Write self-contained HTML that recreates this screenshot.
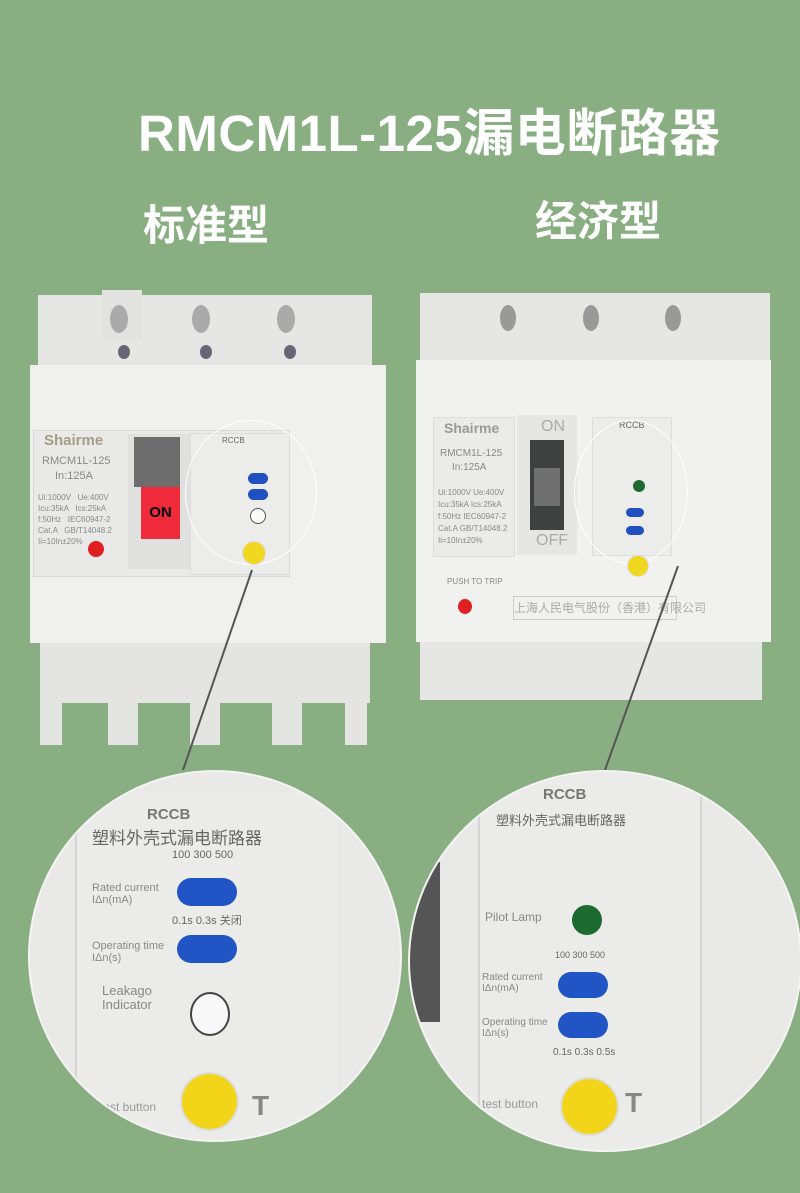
<!DOCTYPE html>
<html><head><meta charset="utf-8"><style>
body{margin:0;width:800px;height:1193px;background:#88ae82;position:relative;overflow:hidden;font-family:"Liberation Sans","Noto Sans CJK SC",sans-serif}
.a{position:absolute}
.t{color:#fff;font-weight:bold;white-space:nowrap}
.w{background:#efefee}
.g{color:#888;font-size:8px;white-space:nowrap}
.c{border-radius:50%}
</style></head><body>
<div class="a t" style="left:138px;top:92px;font-size:51px;letter-spacing:0.5px">RMCM1L-125漏电断路器</div>
<div class="a t" style="left:143px;top:192px;font-size:42px;">标准型</div>
<div class="a t" style="left:535px;top:188px;font-size:42px;">经济型</div>

<!-- left breaker -->
<div class="a w" style="left:38px;top:295px;width:334px;height:75px;background:#e6e6e4"></div>
<div class="a" style="left:102px;top:290px;width:40px;height:50px;background:#e2e2e0"></div>
<div class="a c" style="left:110px;top:305px;width:18px;height:28px;background:#aaa"></div>
<div class="a c" style="left:192px;top:305px;width:18px;height:28px;background:#aaa"></div>
<div class="a c" style="left:277px;top:305px;width:18px;height:28px;background:#aaa"></div>
<div class="a c" style="left:118px;top:345px;width:12px;height:14px;background:#667"></div>
<div class="a c" style="left:200px;top:345px;width:12px;height:14px;background:#667"></div>
<div class="a c" style="left:284px;top:345px;width:12px;height:14px;background:#667"></div>
<div class="a w" style="left:30px;top:365px;width:356px;height:278px;background:#f0f0ef"></div>
<div class="a" style="left:33px;top:430px;width:255px;height:145px;background:#e9e9e7;border:1px solid #d8d8d6"></div>
<div class="a" style="left:44px;top:432px;font-size:15px;font-weight:bold;color:#a89c88">Shairme</div>
<div class="a g" style="left:42px;top:455px;font-size:11px;">RMCM1L-125</div>
<div class="a g" style="left:55px;top:470px;font-size:11px;">In:125A</div>
<div class="a g" style="left:38px;top:492px;line-height:11px">Ui:1000V &nbsp; Ue:400V<br>Icu:35kA &nbsp; Ics:25kA<br>f:50Hz &nbsp; IEC60947-2<br>Cat.A &nbsp; GB/T14048.2<br>Ii=10In±20%</div>
<div class="a c" style="left:88px;top:541px;width:16px;height:16px;background:#e02020"></div>
<div class="a" style="left:128px;top:434px;width:62px;height:135px;background:#e0e0de"></div>
<div class="a" style="left:134px;top:437px;width:46px;height:50px;background:#6d6d6d"></div>
<div class="a" style="left:141px;top:487px;width:39px;height:52px;background:#ef2a3a;font-weight:bold;font-size:15px;line-height:52px;text-align:center">ON</div>
<div class="a" style="left:190px;top:433px;width:98px;height:140px;background:#ececea;border:1px solid #ddd"></div>
<div class="a g" style="left:222px;top:436px;font-size:8px;color:#666">RCCB</div>
<div class="a c" style="left:185px;top:420px;width:130px;height:143px;border:1px solid #fff"></div>
<div class="a c" style="left:242px;top:541px;width:22px;height:22px;background:#f0d820;border:1px solid #ddd"></div>
<div class="a" style="left:248px;top:473px;width:20px;height:11px;border-radius:6px;background:#2050c0"></div>
<div class="a" style="left:248px;top:489px;width:20px;height:11px;border-radius:6px;background:#2050c0"></div>
<div class="a c" style="left:250px;top:508px;width:14px;height:14px;background:#fafafa;border:1px solid #555"></div>
<div class="a" style="left:40px;top:643px;width:330px;height:60px;background:#e4e4e2"></div>
<div class="a" style="left:40px;top:700px;width:22px;height:45px;background:#e4e4e2"></div>
<div class="a" style="left:108px;top:700px;width:30px;height:45px;background:#e4e4e2"></div>
<div class="a" style="left:190px;top:700px;width:30px;height:45px;background:#e4e4e2"></div>
<div class="a" style="left:272px;top:700px;width:30px;height:45px;background:#e4e4e2"></div>
<div class="a" style="left:345px;top:700px;width:22px;height:45px;background:#e4e4e2"></div>

<!-- right breaker -->
<div class="a" style="left:420px;top:293px;width:350px;height:70px;background:#e6e6e4"></div>
<div class="a c" style="left:500px;top:305px;width:16px;height:26px;background:#999"></div>
<div class="a c" style="left:583px;top:305px;width:16px;height:26px;background:#999"></div>
<div class="a c" style="left:665px;top:305px;width:16px;height:26px;background:#999"></div>
<div class="a" style="left:416px;top:360px;width:355px;height:282px;background:#f1f1f0"></div>
<div class="a" style="left:433px;top:417px;width:80px;height:138px;background:#ebebe9;border:1px solid #ddd"></div>
<div class="a" style="left:444px;top:420px;font-size:14px;font-weight:bold;color:#999">Shairme</div>
<div class="a g" style="left:440px;top:448px;font-size:10px;">RMCM1L-125</div>
<div class="a g" style="left:452px;top:462px;font-size:10px;">In:125A</div>
<div class="a g" style="left:438px;top:487px;line-height:12px">Ui:1000V Ue:400V<br>Icu:35kA Ics:25kA<br>f:50Hz IEC60947-2<br>Cat.A GB/T14048.2<br>Ii=10In±20%</div>
<div class="a" style="left:517px;top:415px;width:60px;height:140px;background:#e6e6e4"></div>
<div class="a" style="left:530px;top:440px;width:34px;height:90px;background:#3f4040"></div>
<div class="a" style="left:534px;top:468px;width:26px;height:38px;background:#707070"></div>
<div class="a g" style="left:541px;top:418px;font-size:16px;color:#aaa">ON</div>
<div class="a g" style="left:536px;top:532px;font-size:16px;color:#aaa">OFF</div>
<div class="a" style="left:592px;top:417px;width:78px;height:137px;background:#ececea;border:1px solid #ddd"></div>
<div class="a g" style="left:619px;top:420px;font-size:9px;color:#666">RCCB</div>
<div class="a c" style="left:574px;top:420px;width:112px;height:142px;border:1px solid #fff"></div>
<div class="a c" style="left:633px;top:480px;width:12px;height:12px;background:#1c6a30"></div>
<div class="a" style="left:626px;top:508px;width:18px;height:9px;border-radius:5px;background:#2050c0"></div>
<div class="a" style="left:626px;top:526px;width:18px;height:9px;border-radius:5px;background:#2050c0"></div>
<div class="a c" style="left:627px;top:555px;width:20px;height:20px;background:#f0d820;border:1px solid #ddd"></div>
<div class="a c" style="left:458px;top:599px;width:14px;height:15px;background:#e02020"></div>
<div class="a g" style="left:447px;top:577px">PUSH TO TRIP</div>
<div class="a" style="left:513px;top:596px;width:162px;height:22px;border:1px solid #ccc;color:#aaa;font-size:12px;line-height:22px;white-space:nowrap">上海人民电气股份（香港）有限公司</div>
<div class="a" style="left:420px;top:642px;width:342px;height:58px;background:#e6e6e4"></div>

<!-- leader lines -->
<svg class="a" style="left:0;top:0" width="800" height="1193">
<line x1="252" y1="570" x2="183" y2="770" stroke="#555" stroke-width="2"/>
<line x1="678" y1="566" x2="605" y2="770" stroke="#555" stroke-width="2"/>
</svg>

<!-- left zoom circle -->
<div class="a c" style="left:28px;top:770px;width:370px;height:368px;overflow:hidden;background:#e9e9e7;border:2px solid #f4f4f4">
  <div class="a" style="left:45px;top:20px;width:260px;height:360px;background:#ebebea;border-left:2px solid #d5d5d3"></div>
  <div class="a" style="left:117px;top:34px;font-size:15px;color:#777;font-weight:bold">RCCB</div>
  <div class="a" style="left:62px;top:52px;font-size:17px;color:#666;white-space:nowrap">塑料外壳式漏电断路器</div>
  <div class="a" style="left:142px;top:77px;font-size:11px;color:#666;white-space:nowrap">100 300 500</div>
  <div class="a" style="left:62px;top:110px;font-size:11px;color:#888;line-height:12px">Rated current<br>IΔn(mA)</div>
  <div class="a" style="left:147px;top:106px;width:60px;height:28px;border-radius:14px;background:#2154c4"></div>
  <div class="a" style="left:142px;top:140px;font-size:11px;color:#666;white-space:nowrap">0.1s 0.3s 关闭</div>
  <div class="a" style="left:62px;top:168px;font-size:11px;color:#888;line-height:12px">Operating time<br>IΔn(s)</div>
  <div class="a" style="left:147px;top:163px;width:60px;height:28px;border-radius:14px;background:#2154c4"></div>
  <div class="a" style="left:72px;top:212px;font-size:13px;color:#888;line-height:14px">Leakago<br>Indicator</div>
  <div class="a c" style="left:160px;top:220px;width:36px;height:40px;background:#f8f8f8;border:2px solid #444"></div>
  <div class="a c" style="left:150px;top:300px;width:55px;height:55px;background:#f2d419;border:2px solid #ddd"></div>
  <div class="a" style="left:222px;top:318px;font-size:28px;color:#888;font-weight:bold">T</div>
  <div class="a" style="left:70px;top:328px;font-size:12px;color:#999">test button</div>
</div>

<!-- right zoom circle -->
<div class="a c" style="left:408px;top:770px;width:390px;height:378px;overflow:hidden;background:#e9e9e7;border:2px solid #f4f4f4">
  <div class="a" style="left:0;top:90px;width:30px;height:160px;background:#555"></div>
  <div class="a" style="left:68px;top:0;width:220px;height:380px;background:#ebebea;border-left:2px solid #d5d5d3;border-right:2px solid #d5d5d3"></div>
  <div class="a" style="left:133px;top:14px;font-size:15px;color:#777;font-weight:bold">RCCB</div>
  <div class="a" style="left:86px;top:38px;font-size:13px;color:#666;white-space:nowrap">塑料外壳式漏电断路器</div>
  <div class="a" style="left:75px;top:138px;font-size:12px;color:#888">Pilot Lamp</div>
  <div class="a c" style="left:162px;top:133px;width:30px;height:30px;background:#1c6a30"></div>
  <div class="a" style="left:145px;top:178px;font-size:9px;color:#666;white-space:nowrap">100 300 500</div>
  <div class="a" style="left:72px;top:200px;font-size:10px;color:#888;line-height:11px">Rated current<br>IΔn(mA)</div>
  <div class="a" style="left:148px;top:200px;width:50px;height:26px;border-radius:13px;background:#2154c4"></div>
  <div class="a" style="left:72px;top:245px;font-size:10px;color:#888;line-height:11px">Operating time<br>IΔn(s)</div>
  <div class="a" style="left:148px;top:240px;width:50px;height:26px;border-radius:13px;background:#2154c4"></div>
  <div class="a" style="left:143px;top:275px;font-size:10px;color:#666;white-space:nowrap">0.1s 0.3s 0.5s</div>
  <div class="a c" style="left:150px;top:305px;width:55px;height:55px;background:#f2d419;border:2px solid #ddd"></div>
  <div class="a" style="left:215px;top:315px;font-size:28px;color:#888;font-weight:bold">T</div>
  <div class="a" style="left:72px;top:325px;font-size:12px;color:#999">test button</div>
</div>
</body></html>
